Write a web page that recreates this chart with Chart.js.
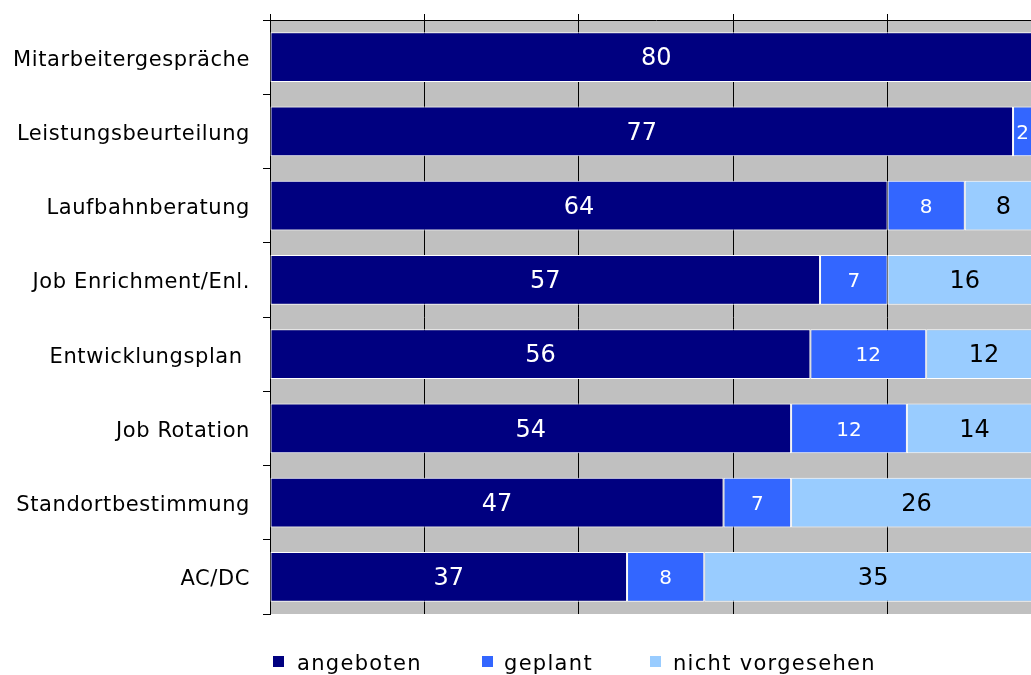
<!DOCTYPE html>
<html>
<head>
<meta charset="utf-8">
<script src="https://cdn.jsdelivr.net/npm/chart.js@4"></script>
<style>
  html, body { margin: 0; padding: 0; background: #fff; overflow: hidden; }
  #wrap { position: relative; width: 1045px; height: 675px; }
  #legend { position: absolute; top: 0; left: 0; font-family: "DejaVu Sans", Verdana, sans-serif; font-size: 21px; letter-spacing: 1.3px; color: #000; }
  .box { position: absolute; top: 656px; width: 11px; height: 11px; }
  .txt { position: absolute; top: 651px; white-space: nowrap; line-height: 24px; }
</style>
</head>
<body>
<div id="wrap">
  <canvas id="chart" width="1045" height="675"></canvas>
  <div id="legend"></div>
</div>
<script>
const categories = ["Mitarbeitergespräche", "Leistungsbeurteilung", "Laufbahnberatung", "Job Enrichment/Enl.",
                    "Entwicklungsplan ", "Job Rotation", "Standortbestimmung", "AC/DC"];
const angeboten = [80, 77, 64, 57, 56, 54, 47, 37];
const geplant = [0, 2, 8, 7, 12, 12, 7, 8];
const nichtVorgesehen = [0, 0, 8, 16, 12, 14, 26, 35];
const seriesNames = ["angeboten", "geplant", "nicht vorgesehen"];
const seriesColors = ["#000080", "#3366FF", "#99CCFF"];
const labelColors = ["#ffffff", "#ffffff", "#000000"];
const labelSizes = [24, 20, 24];
const xTicks = [0, 16, 32, 48, 64, 80];

const FONT = '"DejaVu Sans", Verdana, sans-serif';

// gray plot background, and wider spacing for the axis text
const plotBg = {
    id: 'plotBg',
    beforeDraw(chart) {
        const a = chart.chartArea, ctx = chart.ctx;
        ctx.save();
        ctx.fillStyle = '#C0C0C0';
        ctx.fillRect(a.left, a.top, a.right - a.left, a.bottom - a.top);
        ctx.restore();
        ctx.letterSpacing = '0.6px';
    },
    afterDraw(chart) {
        chart.ctx.letterSpacing = '0px';
    }
};

// value labels in the middle of each segment
const barLabels = {
    id: 'barLabels',
    afterDatasetsDraw(chart) {
        const ctx = chart.ctx;
        ctx.letterSpacing = '0px';
        ctx.save();
        ctx.textAlign = 'center';
        ctx.textBaseline = 'middle';
        chart.data.datasets.forEach((ds, i) => {
            const meta = chart.getDatasetMeta(i);
            ctx.fillStyle = labelColors[i];
            ctx.font = labelSizes[i] + 'px ' + FONT;
            meta.data.forEach((bar, j) => {
                const v = ds.data[j];
                if (!v) return;
                const x = (bar.x + bar.base) / 2;
                ctx.fillText(String(v), x, bar.y + 2);
            });
        });
        ctx.restore();
    }
};

const ctx = document.getElementById('chart');
new Chart(ctx, {
    type: 'bar',
    data: {
        labels: categories,
        datasets: [angeboten, geplant, nichtVorgesehen].map((d, i) => ({
            label: seriesNames[i],
            data: d,
            backgroundColor: seriesColors[i],
            borderColor: '#ffffff',
            borderWidth: 1,
            borderSkipped: false,
            barPercentage: 0.67,
            categoryPercentage: 1
        }))
    },
    options: {
        indexAxis: 'y',
        responsive: false,
        animation: false,
        layout: { padding: { top: 0, left: 0, right: 3, bottom: 61 } },
        plugins: { legend: { display: false }, tooltip: { enabled: false } },
        scales: {
            x: {
                position: 'top',
                stacked: true,
                min: 0,
                max: 80,
                afterBuildTicks(scale) { scale.ticks = xTicks.map(v => ({ value: v })); },
                afterFit(scale) { scale.height = 20; },
                ticks: { display: false },
                grid: { color: '#000', lineWidth: 1, tickLength: 6, drawOnChartArea: true },
                border: { display: true, color: '#000', width: 1 }
            },
            y: {
                stacked: true,
                afterFit(scale) {
                    scale.width = 270;
                    scale.paddingTop = 0;
                    scale.paddingBottom = 0;
                },
                ticks: { color: '#000', font: { family: FONT, size: 21 }, padding: 13, labelOffset: 3 },
                grid: { color: '#000', lineWidth: 1, tickLength: 7, drawOnChartArea: false, offset: true },
                border: { display: true, color: '#000', width: 1 }
            }
        }
    },
    plugins: [plotBg, barLabels]
});

const boxLeft = [273, 482, 650];
const textLeft = [297, 504, 673];
const legend = document.getElementById('legend');
seriesNames.forEach((name, i) => {
    const box = document.createElement('div');
    box.className = 'box';
    box.style.left = boxLeft[i] + 'px';
    box.style.background = seriesColors[i];
    legend.appendChild(box);
    const txt = document.createElement('div');
    txt.className = 'txt';
    txt.style.left = textLeft[i] + 'px';
    txt.textContent = name;
    legend.appendChild(txt);
});
</script>
</body>
</html>
